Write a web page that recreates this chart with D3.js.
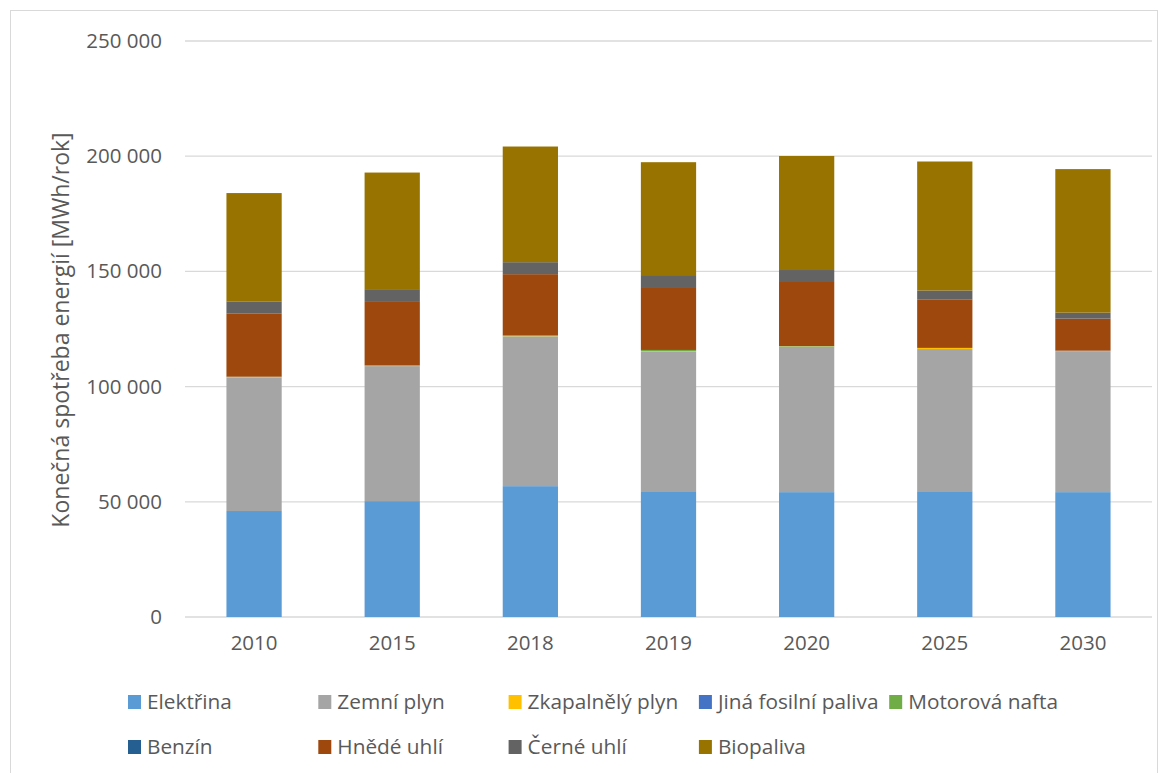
<!DOCTYPE html>
<html>
<head>
<meta charset="utf-8">
<script src="https://cdn.jsdelivr.net/npm/d3@7"></script>
<style>
  html, body { margin: 0; padding: 0; background: #fff; }
  svg { display: block; }
  text { font-family: "Open Sans", "Noto Sans", sans-serif; fill: #595959; }
</style>
</head>
<body>
<svg id="chart" width="1168" height="773"></svg>
<script>
const years = ["2010", "2015", "2018", "2019", "2020", "2025", "2030"];
const seriesNames = ["Elektřina", "Zemní plyn", "Zkapalnělý plyn", "Jiná fosilní paliva", "Motorová nafta", "Benzín", "Hnědé uhlí", "Černé uhlí", "Biopaliva"];
const seriesColors = ["#5B9BD5", "#A5A5A5", "#FFC000", "#4472C4", "#70AD47", "#255E91", "#9E480E", "#636363", "#997300"];

const elektrina   = [46000, 50300, 56800, 54600, 54200, 54600, 54200];
const zemniPlyn   = [58000, 58600, 65000, 60700, 63100, 61700, 61200];
const zkapalnely  = [100, 100, 100, 100, 100, 500, 100];
const jinaFosilni = [0, 0, 0, 0, 0, 0, 100];
const motorova    = [200, 200, 300, 500, 200, 0, 0];
const benzin      = [0, 0, 0, 0, 0, 0, 0];
const hnedeUhli   = [27500, 27900, 26600, 27300, 27800, 20900, 13900];
const cerneUhli   = [5200, 5200, 5200, 5200, 5200, 4000, 2600];
const biopaliva   = [47000, 50600, 50200, 49000, 49500, 56000, 62300];

const yTicks = [0, 50000, 100000, 150000, 200000, 250000];
const yTitle = "Konečná spotřeba energií [MWh/rok]";

const seriesValues = [elektrina, zemniPlyn, zkapalnely, jinaFosilni, motorova, benzin, hnedeUhli, cerneUhli, biopaliva];

const rows = years.map((y, i) => {
  const r = { year: y };
  seriesNames.forEach((s, k) => r[s] = seriesValues[k][i]);
  return r;
});

const svg = d3.select("#chart");

// outer chart border
svg.append("rect").attr("x", 10.5).attr("y", 10.5).attr("width", 1147).attr("height", 800)
  .attr("fill", "none").attr("stroke", "#d9d9d9").attr("stroke-width", 1);

const x = d3.scaleBand().domain(years).range([185, 1152]).paddingInner(0.6).paddingOuter(0.3);
const y = d3.scaleLinear().domain([0, 250000]).range([617, 41]);

const fmt = v => d3.format(",")(v).replace(/,/g, " ");

// gridlines
svg.append("g").selectAll("line").data(yTicks).join("line")
  .attr("x1", 185).attr("x2", 1152)
  .attr("y1", d => y(d)).attr("y2", d => y(d))
  .attr("stroke", "#d9d9d9").attr("stroke-width", 1.3);

// y axis labels
const yAxis = d3.axisLeft(y).tickValues(yTicks).tickFormat(fmt).tickSize(0).tickPadding(0);
const gy = svg.append("g").attr("transform", "translate(162,0)").call(yAxis);
gy.select(".domain").remove();
gy.selectAll("text").style("font-family", "Open Sans, Noto Sans, sans-serif")
  .style("font-size", "20.5px").attr("fill", "#595959");

// stacked bars
const stack = d3.stack().keys(seriesNames);
const stacked = stack(rows);
svg.append("g").selectAll("g").data(stacked).join("g")
  .attr("fill", (d, i) => seriesColors[i])
  .selectAll("rect").data(d => d).join("rect")
  .attr("x", d => x(d.data.year))
  .attr("width", x.bandwidth())
  .attr("y", d => y(d[1]))
  .attr("height", d => Math.max(0, y(d[0]) - y(d[1])));

// x axis labels
const xAxis = d3.axisBottom(x).tickSize(0).tickPadding(0);
const gx = svg.append("g").attr("transform", "translate(0,635)").call(xAxis);
gx.select(".domain").remove();
gx.selectAll("text").style("font-family", "Open Sans, Noto Sans, sans-serif")
  .style("font-size", "20.5px").attr("fill", "#595959");

// y title
svg.append("text")
  .attr("transform", "translate(69,330) rotate(-90)")
  .attr("text-anchor", "middle")
  .style("font-size", "23px")
  .text(yTitle);

// legend
const legend = svg.append("g");
const colW = 190.3, col0 = 128, row0 = 695, rowH = 45;
seriesNames.forEach((s, i) => {
  const c = i % 5, r = Math.floor(i / 5);
  const g = legend.append("g").attr("transform", `translate(${col0 + c * colW},${row0 + r * rowH})`);
  g.append("rect").attr("width", 13).attr("height", 14).attr("fill", seriesColors[i]);
  g.append("text").attr("x", 19).attr("y", 13.5).style("font-size", "20.8px").text(s);
});
</script>
</body>
</html>
